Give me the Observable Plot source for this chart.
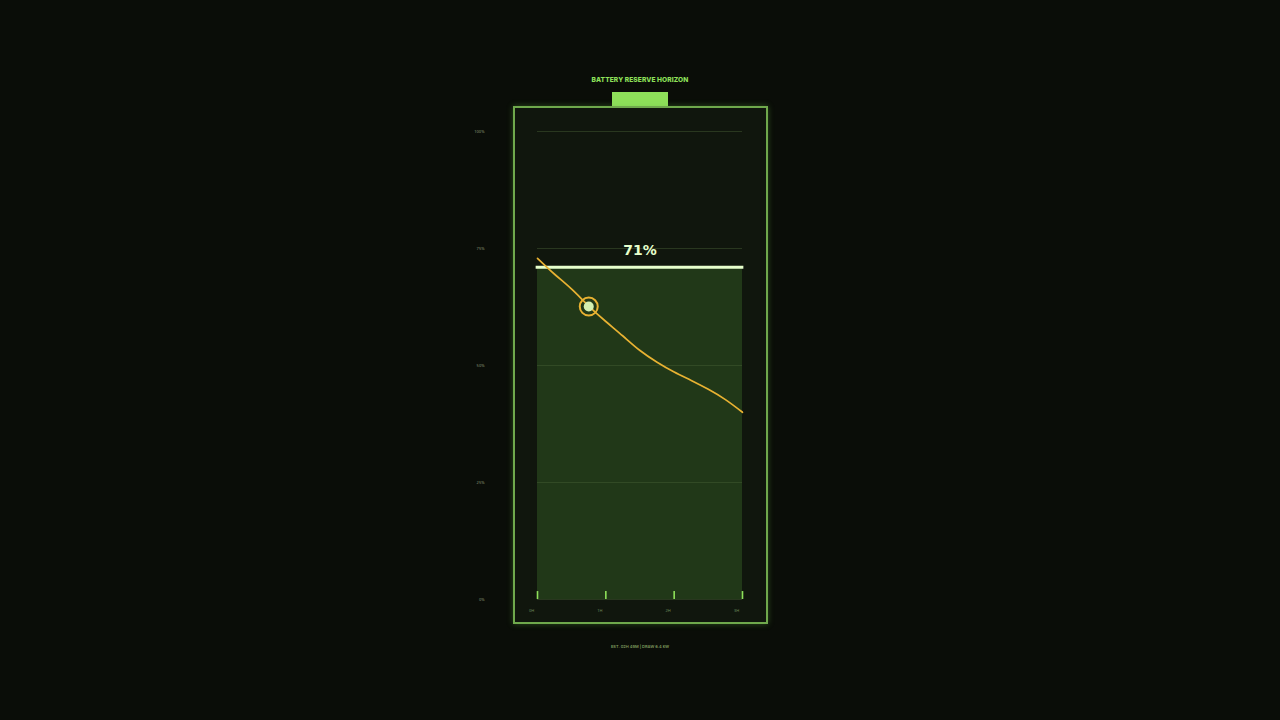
<!DOCTYPE html>
<html>
<head>
<meta charset="utf-8">
<script src="https://cdn.jsdelivr.net/npm/d3@7"></script>
<script src="https://cdn.jsdelivr.net/npm/@observablehq/plot@0.6"></script>
<style>
  html, body { margin: 0; padding: 0; background: #0a0d08; width: 1280px; height: 720px; overflow: hidden; }
  #title { position: absolute; left: 0; width: 1280px; top: 76px; text-align: center;
    font-family: "Inter", "DejaVu Sans", sans-serif; font-weight: 800; font-size: 6.6px;
    color: #8ee05a; letter-spacing: 0.1px; }
  #cap { position: absolute; left: 612px; top: 92px; width: 56px; height: 14px; background: #8ee05a; }
  #shell { position: absolute; left: 513px; top: 106px; width: 251px; height: 514px;
    border: 2px solid #6fa84c; background: #10160d;
    box-shadow: 0 0 6px rgba(110, 190, 70, 0.35); }
  #chart { position: absolute; left: 0; top: 88px; }
  #caption { position: absolute; left: 0; width: 1280px; top: 644px; text-align: center;
    font-family: "Inter", "DejaVu Sans", sans-serif; font-weight: 600; font-size: 4px; color: #7e9a5e; }
</style>
</head>
<body>
<div id="title">BATTERY RESERVE HORIZON</div>
<div id="cap"></div>
<div id="shell"></div>
<div id="chart"></div>
<div id="caption">EST. 02H 49M | DRAW 6.4 kW</div>
<script>
// Data
const hours = [0, 0.25, 0.5, 0.75, 1.0, 1.25, 1.5, 1.75, 2.0, 2.25, 2.5, 2.75, 3.0];
const reserve = [72.9, 69.5, 66.3, 62.7, 59.4, 56.3, 53.2, 50.7, 48.6, 46.8, 44.9, 42.7, 40.0];
const charge = 71;
const markerHour = [0.75];
const markerValue = [62.6];
const yTicks = [0, 25, 50, 75, 100];
const yTickLabels = ["0%", "25%", "50%", "75%", "100%"];
const xTicks = [0, 1, 2, 3];
const xTickLabels = ["0H", "1H", "2H", "3H"];

const curve = hours.map((h, i) => ({h, v: reserve[i]}));
const marker = markerHour.map((h, i) => ({h, v: markerValue[i]}));

const chart = Plot.plot({
  width: 1280,
  height: 545,
  marginLeft: 537,
  marginRight: 538,
  marginTop: 43,
  marginBottom: 34,
  style: {background: "transparent", overflow: "visible"},
  x: {domain: [0, 3], ticks: xTicks, tickFormat: (d) => xTickLabels[xTicks.indexOf(d)]},
  y: {domain: [0, 100], ticks: yTicks, tickFormat: (d) => yTickLabels[yTicks.indexOf(d)]},
  marks: [
    Plot.rectY([charge], {x1: 0, x2: 3, y1: 0, y2: (d) => d, fill: "#213818"}),
    Plot.gridY(yTicks, {stroke: "#4a6238", strokeOpacity: 0.55, strokeWidth: 0.8}),
    Plot.axisY({ticks: yTicks, tickFormat: (d) => yTickLabels[yTicks.indexOf(d)], tickSize: 0, tickPadding: 53,
      fontSize: 4, fill: "#8a9a78", label: null}),
    Plot.axisX({ticks: xTicks, tickFormat: (d) => xTickLabels[xTicks.indexOf(d)], tickSize: 0, tickPadding: 10,
      dx: -6, fontSize: 4, fill: "#6e8a5a", label: null}),
    Plot.ruleX(xTicks, {x: (d) => d, y1: 0, y2: 1.7, stroke: "#8ee05a", strokeWidth: 1.6}),
    Plot.ruleY([charge], {x1: -0.02, x2: 3.02, stroke: "#e6ffcc", strokeWidth: 3}),
    Plot.text([charge], {x: 1.5, y: (d) => d, text: (d) => d + "%", dy: -17, fontSize: 14, fontWeight: "bold",
      fill: "#e6ffcc", fontFamily: "DejaVu Sans, sans-serif"}),
    Plot.line(curve, {x: "h", y: "v", stroke: "#e8b232", strokeWidth: 1.7, curve: "natural"}),
    Plot.dot(marker, {x: "h", y: "v", r: 9, stroke: "#e8b232", strokeWidth: 2, fill: "none"}),
    Plot.dot(marker, {x: "h", y: "v", r: 5, fill: "#d4f0b0"})
  ]
});
document.getElementById("chart").appendChild(chart);
</script>
</body>
</html>
